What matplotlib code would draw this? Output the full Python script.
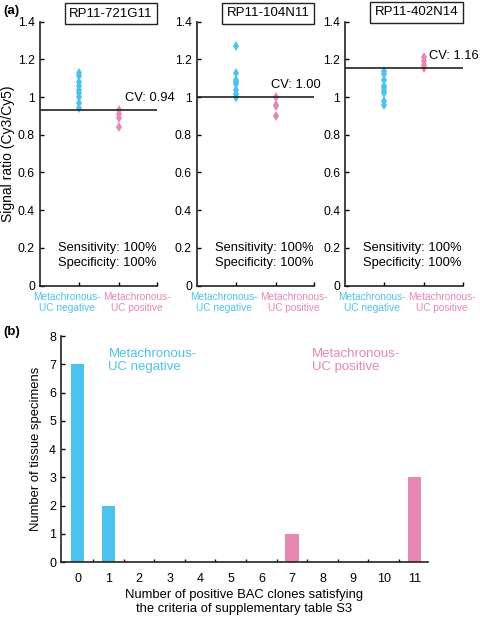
import numpy as np
import matplotlib
matplotlib.use("Agg")
import matplotlib.pyplot as plt

plt.rcParams['font.family'] = ['Liberation Sans', 'DejaVu Sans']

BLUE = '#4cc3ec'
PINK = '#e886b4'

# panel (a) data
clones = ['RP11-721G11', 'RP11-104N11', 'RP11-402N14']
neg_vals = [
    [1.13, 1.11, 1.08, 1.06, 1.04, 1.02, 1.00, 0.97, 0.94],
    [1.27, 1.13, 1.09, 1.08, 1.07, 1.04, 1.015, 1.00, 1.00],
    [1.14, 1.12, 1.09, 1.06, 1.05, 1.03, 1.02, 0.98, 0.96],
]
pos_vals = [
    [0.93, 0.91, 0.89, 0.84],
    [1.00, 0.96, 0.955, 0.90],
    [1.21, 1.19, 1.17, 1.155],
]
cv_vals = [0.93, 1.00, 1.155]
cv_labels = ['CV: 0.94', 'CV: 1.00', 'CV: 1.16']
group_labels = ['Metachronous-\nUC negative', 'Metachronous-\nUC positive']

# panel (b) data
n_clones = list(range(12))
neg_counts = [7, 2, 0, 0, 0, 0, 0, 0, 0, 0, 0, 0]
pos_counts = [0, 0, 0, 0, 0, 0, 0, 1, 0, 0, 0, 3]

fig = plt.figure(figsize=(4.8, 6.17), dpi=100)

lefts = [0.083, 0.410, 0.719]
cv_x = [2.15, 1.88, 2.12]
box_y = [1.03, 1.032, 1.035]
for i in range(3):
    ax = fig.add_axes([lefts[i], 0.537, 0.245, 0.428])
    ax.plot([1] * len(neg_vals[i]), neg_vals[i], 'd', color=BLUE, ms=5, mew=0)
    ax.plot([2] * len(pos_vals[i]), pos_vals[i], 'd', color=PINK, ms=5, mew=0)
    ax.axhline(cv_vals[i], color='#222222', lw=1.2)
    ax.text(cv_x[i], cv_vals[i] + 0.065, cv_labels[i], fontsize=9.3, ha='left', va='center',
            clip_on=False)
    ax.text(0.475, 0.2, 'Sensitivity: 100%', fontsize=9.3, ha='left', va='center')
    ax.text(0.475, 0.122, 'Specificity: 100%', fontsize=9.3, ha='left', va='center')
    ax.set_xlim(0.03, 2.95)
    ax.set_ylim(0, 1.4)
    ax.set_yticks(np.arange(0, 1.41, 0.2))
    ax.set_yticklabels(['0', '0.2', '0.4', '0.6', '0.8', '1', '1.2', '1.4'])
    ax.set_xticks([1, 2, 2.95])
    ax.set_xticklabels(['', '', ''])
    for x, lab, c in zip([0.7, 2.43], group_labels, [BLUE, PINK]):
        ax.text(x, -0.035, lab, color=c, fontsize=7.3, ha='center', va='top',
                linespacing=1.05, clip_on=False)
    ax.tick_params(direction='in', length=3, width=1, labelsize=8.7)
    for s in ['top', 'right']:
        ax.spines[s].set_visible(False)
    for s in ['left', 'bottom']:
        ax.spines[s].set_linewidth(1.2)
        ax.spines[s].set_color('#222222')
    ax.text(0.96, box_y[i], clones[i], transform=ax.transAxes, fontsize=9.5,
            ha='right', va='center',
            bbox=dict(boxstyle='square,pad=0.35', fc='white', ec='#222222', lw=1))
    if i == 0:
        ax.set_ylabel('Signal ratio (Cy3/Cy5)', fontsize=10, labelpad=2)

fig.text(0.008, 0.982, '(a)', fontsize=9.5, fontweight='bold', va='center')
fig.text(0.008, 0.462, '(b)', fontsize=9.5, fontweight='bold', va='center')

# panel (b)
axb = fig.add_axes([0.127, 0.089, 0.765, 0.366])
axb.bar(n_clones, neg_counts, width=0.43, color=BLUE)
axb.bar(n_clones, pos_counts, width=0.43, color=PINK)
axb.set_xlim(-0.55, 11.45)
axb.set_ylim(0, 8)
axb.set_xticks(n_clones)
axb.set_xticklabels([str(n) for n in n_clones])
axb.set_xticks(np.arange(0.5, 11.5, 1), minor=True)
axb.tick_params(axis='x', which='major', length=0, labelsize=9, pad=8)
axb.tick_params(axis='x', which='minor', direction='in', length=2.5, width=1)
axb.tick_params(axis='y', direction='in', length=3, width=1, labelsize=9)
axb.set_yticks(range(9))
for s in ['top', 'right']:
    axb.spines[s].set_visible(False)
for s in ['left', 'bottom']:
    axb.spines[s].set_linewidth(1.2)
    axb.spines[s].set_color('#222222')
axb.text(1.0, 7.6, 'Metachronous-\nUC negative', color=BLUE, fontsize=9.5, va='top', ha='left')
axb.text(7.65, 7.6, 'Metachronous-\nUC positive', color=PINK, fontsize=9.5, va='top', ha='left')
axb.set_xlabel('Number of positive BAC clones satisfying\nthe criteria of supplementary table S3',
               fontsize=9.4, labelpad=3)
axb.set_ylabel('Number of tissue specimens', fontsize=9.4, labelpad=5)

fig.savefig('out.png', dpi=100)
